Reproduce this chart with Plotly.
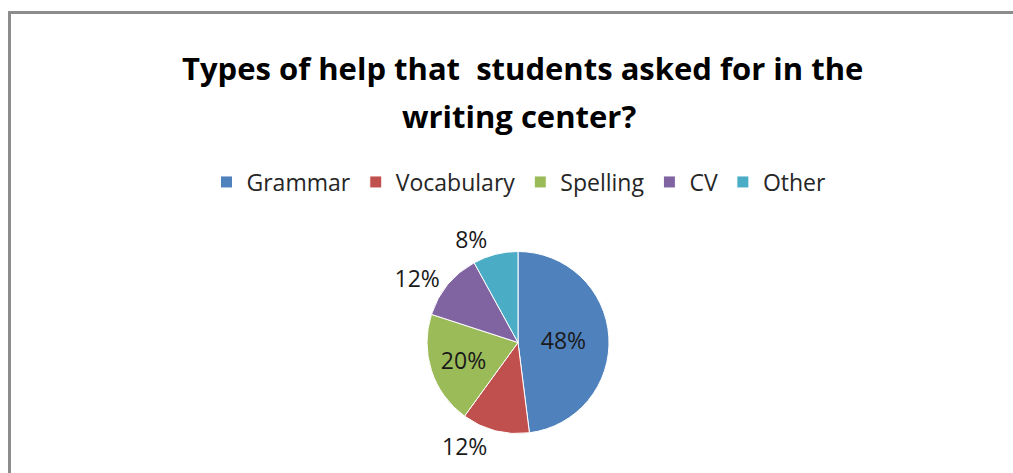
import plotly.graph_objects as go

categories = ["Grammar", "Vocabulary", "Spelling", "CV", "Other"]
values = [48, 12, 20, 12, 8]
colors = ["#4F81BD", "#C0504D", "#9BBB59", "#8064A2", "#4BACC6"]
text_positions = ["inside", "outside", "inside", "outside", "outside"]
title_lines = ["Types of help that  students asked for in the", "writing center?"]

W, H = 1013, 473
cx, cy, r = 518, 342.5, 91

fig = go.Figure(go.Pie(
    labels=categories,
    values=values,
    sort=False,
    direction="clockwise",
    rotation=0,
    marker=dict(colors=colors, line=dict(color="white", width=1)),
    textinfo="percent",
    textposition=text_positions,
    insidetextorientation="horizontal",
    textfont=dict(family="Open Sans", size=23, color="#1a1a1a"),
    domain=dict(x=[(cx - r) / W, (cx + r) / W], y=[(H - cy - r) / H, (H - cy + r) / H]),
    hoverinfo="label+percent",
))

fig.update_layout(
    width=W, height=H,
    margin=dict(l=0, r=0, t=0, b=0),
    paper_bgcolor="white",
    showlegend=True,
    legend=dict(
        orientation="h", x=519 / W, xanchor="center", y=1 - 182 / H, yanchor="middle",
        font=dict(family="Open Sans", size=23, color="#262626"),
        traceorder="normal",
    ),
    annotations=[
        dict(text="<b>" + title_lines[0] + "</b>", x=522 / W, y=1 - 68 / H, xref="paper", yref="paper",
             xanchor="center", yanchor="middle", showarrow=False,
             font=dict(family="Open Sans", size=31, color="#000000")),
        dict(text="<b>" + title_lines[1] + "</b>", x=519 / W, y=1 - 116 / H, xref="paper", yref="paper",
             xanchor="center", yanchor="middle", showarrow=False,
             font=dict(family="Open Sans", size=31, color="#000000")),
    ],
    shapes=[dict(type="rect", xref="paper", yref="paper", x0=9.5 / W, x1=1.02, y0=-0.05, y1=1 - 12.5 / H,
                 line=dict(color="#8C8C8C", width=3), fillcolor="rgba(0,0,0,0)", layer="below")],
)

fig.write_html("out.html")
